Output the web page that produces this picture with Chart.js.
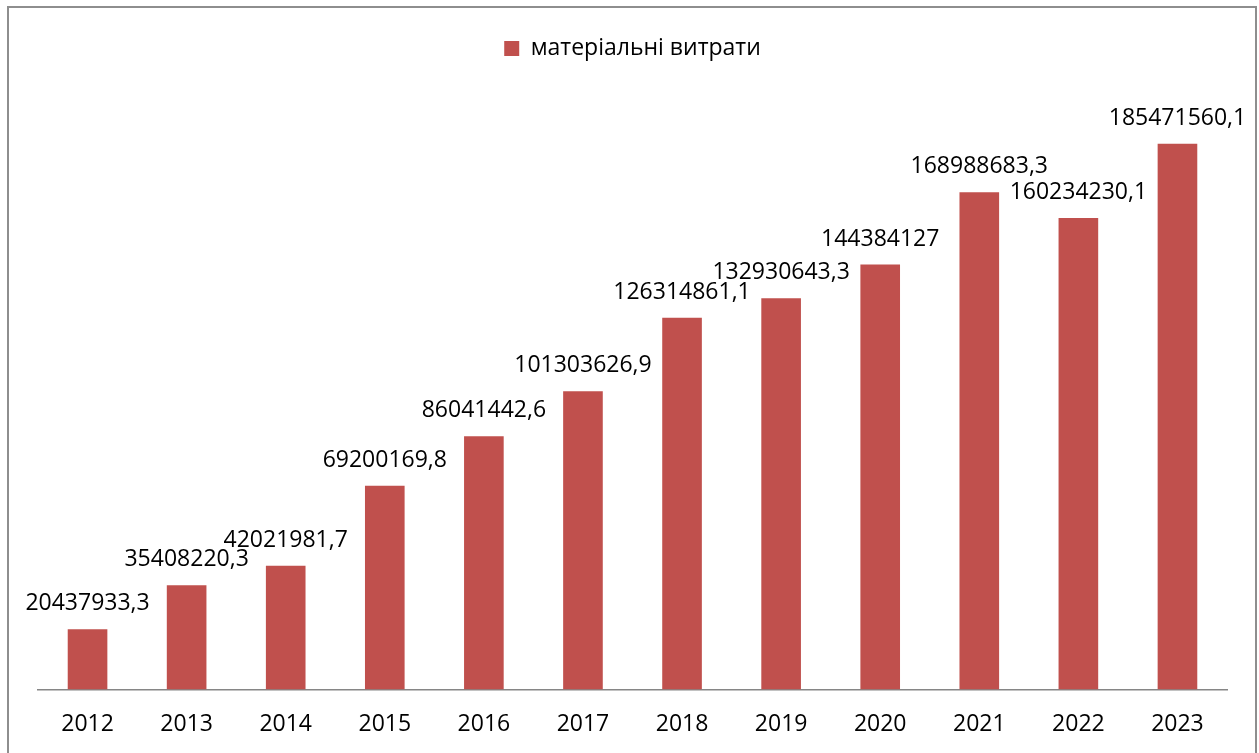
<!DOCTYPE html>
<html>
<head>
<meta charset="utf-8">
<script src="https://cdn.jsdelivr.net/npm/chart.js@4"></script>
<style>
  html, body { margin: 0; padding: 0; background: #fff; overflow: hidden; }
  canvas { display: block; }
</style>
</head>
<body>
<canvas id="chart" width="1259" height="753"></canvas>
<script>
// Data
const years = ['2012', '2013', '2014', '2015', '2016', '2017', '2018', '2019', '2020', '2021', '2022', '2023'];
const materialCosts = [20437933.3, 35408220.3, 42021981.7, 69200169.8, 86041442.6, 101303626.9,
    126314861.1, 132930643.3, 144384127, 168988683.3, 160234230.1, 185471560.1];
const seriesName = 'матеріальні витрати';

const FONT = '"Open Sans", "Noto Sans", sans-serif';
const BAR_COLOR = '#C0504D';

// Outer frame like the Excel chart area
const framePlugin = {
    id: 'frame',
    beforeDraw(chart) {
        const ctx = chart.ctx;
        ctx.save();
        ctx.fillStyle = '#fff';
        ctx.fillRect(0, 0, chart.width, chart.height);
        ctx.strokeStyle = '#8e8e8e';
        ctx.lineWidth = 2;
        ctx.strokeRect(8, 7, 1248, 800);
        ctx.restore();
    }
};

// Extra space between legend and plot
const legendGap = {
    id: 'legendGap',
    beforeInit(chart) {
        const origFit = chart.legend.fit;
        chart.legend.fit = function () {
            origFit.bind(chart.legend)();
            this.height += 31;
        };
    }
};

// Value labels above the bars
const valueLabels = {
    id: 'valueLabels',
    afterDatasetsDraw(chart) {
        const ctx = chart.ctx;
        const meta = chart.getDatasetMeta(0);
        ctx.save();
        ctx.font = '23px ' + FONT;
        ctx.fillStyle = '#000';
        ctx.textAlign = 'center';
        ctx.textBaseline = 'alphabetic';
        meta.data.forEach((bar, i) => {
            const text = String(chart.data.datasets[0].data[i]).replace('.', ',');
            ctx.fillText(text, bar.x, bar.y - 19);
        });
        ctx.restore();
    }
};

new Chart(document.getElementById('chart'), {
    type: 'bar',
    data: {
        labels: years,
        datasets: [{
            label: seriesName,
            data: materialCosts,
            backgroundColor: BAR_COLOR,
            categoryPercentage: 1,
            barPercentage: 0.4
        }]
    },
    options: {
        responsive: false,
        animation: false,
        layout: {
            padding: { left: 38, right: 32, top: 27, bottom: -6 }
        },
        plugins: {
            tooltip: { enabled: false },
            legend: {
                position: 'top',
                labels: {
                    boxWidth: 15,
                    boxHeight: 15,
                    color: '#000',
                    font: { family: FONT, size: 23 },
                    padding: 10
                }
            }
        },
        scales: {
            x: {
                grid: { display: false, drawTicks: false },
                border: { display: true, color: '#868686', width: 1.5 },
                ticks: {
                    color: '#000',
                    font: { family: FONT, size: 23 },
                    padding: 21,
                    maxRotation: 0
                }
            },
            y: {
                display: false,
                min: 0,
                max: 200000000
            }
        }
    },
    plugins: [framePlugin, legendGap, valueLabels]
});
</script>
</body>
</html>
